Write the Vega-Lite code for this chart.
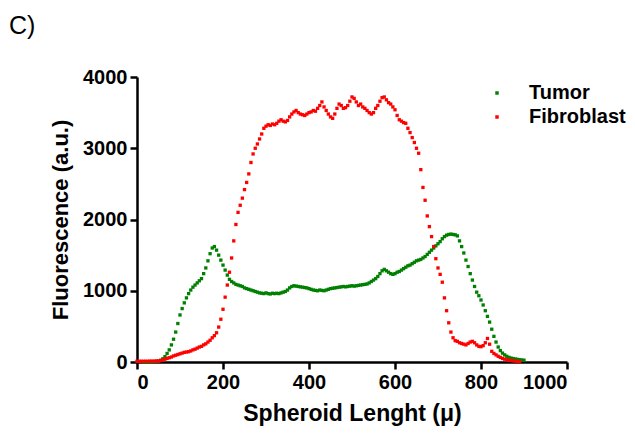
{
  "$schema": "https://vega.github.io/schema/vega-lite/v6.json",
  "autosize": "none",
  "width": 430,
  "height": 285,
  "padding": {"left": 137, "top": 77, "right": 68, "bottom": 75},
  "background": "white",
  "title": {"text": "C)", "anchor": "start", "frame": "group", "dx": -128, "dy": 36, "offset": 44, "baseline": "alphabetic", "font": "Liberation Sans", "fontSize": 25, "fontWeight": "normal", "color": "black"},
  "config": {
    "view": {"stroke": null},
    "axis": {"grid": false, "domainColor": "black", "domainWidth": 2.5, "tickColor": "black", "tickWidth": 2.5, "tickSize": 7, "labelFont": "Liberation Sans", "labelFontWeight": "bold", "labelFontSize": 20, "labelColor": "black", "titleFont": "Liberation Sans", "titleFontWeight": "bold", "titleColor": "black", "labelPadding": 3, "format": "d"}
  },
  "data": {"values": [
{"s":"Tumor","x":15,"y":0},{"s":"Tumor","x":20,"y":0},{"s":"Tumor","x":25,"y":0},{"s":"Tumor","x":30,"y":0},{"s":"Tumor","x":35,"y":2},{"s":"Tumor","x":40,"y":5},{"s":"Tumor","x":45,"y":8},{"s":"Tumor","x":50,"y":12},{"s":"Tumor","x":55,"y":25},{"s":"Tumor","x":60,"y":45},{"s":"Tumor","x":65,"y":75},{"s":"Tumor","x":70,"y":120},{"s":"Tumor","x":75,"y":170},{"s":"Tumor","x":80,"y":240},{"s":"Tumor","x":85,"y":320},{"s":"Tumor","x":90,"y":420},{"s":"Tumor","x":95,"y":540},{"s":"Tumor","x":100,"y":660},{"s":"Tumor","x":105,"y":750},{"s":"Tumor","x":110,"y":830},{"s":"Tumor","x":115,"y":900},{"s":"Tumor","x":120,"y":960},{"s":"Tumor","x":125,"y":1010},{"s":"Tumor","x":130,"y":1050},{"s":"Tumor","x":135,"y":1080},{"s":"Tumor","x":140,"y":1110},{"s":"Tumor","x":145,"y":1140},{"s":"Tumor","x":150,"y":1170},{"s":"Tumor","x":155,"y":1240},{"s":"Tumor","x":160,"y":1320},{"s":"Tumor","x":165,"y":1420},{"s":"Tumor","x":170,"y":1520},{"s":"Tumor","x":175,"y":1600},{"s":"Tumor","x":180,"y":1620},{"s":"Tumor","x":185,"y":1570},{"s":"Tumor","x":190,"y":1500},{"s":"Tumor","x":195,"y":1430},{"s":"Tumor","x":200,"y":1360},{"s":"Tumor","x":205,"y":1290},{"s":"Tumor","x":210,"y":1220},{"s":"Tumor","x":215,"y":1160},{"s":"Tumor","x":220,"y":1130},{"s":"Tumor","x":225,"y":1110},{"s":"Tumor","x":230,"y":1090},{"s":"Tumor","x":235,"y":1080},{"s":"Tumor","x":240,"y":1070},{"s":"Tumor","x":245,"y":1060},{"s":"Tumor","x":250,"y":1040},{"s":"Tumor","x":255,"y":1030},{"s":"Tumor","x":260,"y":1020},{"s":"Tumor","x":265,"y":1010},{"s":"Tumor","x":270,"y":1000},{"s":"Tumor","x":275,"y":990},{"s":"Tumor","x":280,"y":980},{"s":"Tumor","x":285,"y":970},{"s":"Tumor","x":290,"y":965},{"s":"Tumor","x":295,"y":960},{"s":"Tumor","x":300,"y":970},{"s":"Tumor","x":305,"y":960},{"s":"Tumor","x":310,"y":955},{"s":"Tumor","x":315,"y":965},{"s":"Tumor","x":320,"y":960},{"s":"Tumor","x":325,"y":965},{"s":"Tumor","x":330,"y":960},{"s":"Tumor","x":335,"y":970},{"s":"Tumor","x":340,"y":980},{"s":"Tumor","x":345,"y":990},{"s":"Tumor","x":350,"y":1010},{"s":"Tumor","x":355,"y":1040},{"s":"Tumor","x":360,"y":1060},{"s":"Tumor","x":365,"y":1070},{"s":"Tumor","x":370,"y":1065},{"s":"Tumor","x":375,"y":1060},{"s":"Tumor","x":380,"y":1055},{"s":"Tumor","x":385,"y":1050},{"s":"Tumor","x":390,"y":1045},{"s":"Tumor","x":395,"y":1040},{"s":"Tumor","x":400,"y":1030},{"s":"Tumor","x":405,"y":1020},{"s":"Tumor","x":410,"y":1010},{"s":"Tumor","x":415,"y":1005},{"s":"Tumor","x":420,"y":1000},{"s":"Tumor","x":425,"y":1010},{"s":"Tumor","x":430,"y":1005},{"s":"Tumor","x":435,"y":1000},{"s":"Tumor","x":440,"y":1010},{"s":"Tumor","x":445,"y":1020},{"s":"Tumor","x":450,"y":1030},{"s":"Tumor","x":455,"y":1035},{"s":"Tumor","x":460,"y":1040},{"s":"Tumor","x":465,"y":1045},{"s":"Tumor","x":470,"y":1050},{"s":"Tumor","x":475,"y":1055},{"s":"Tumor","x":480,"y":1060},{"s":"Tumor","x":485,"y":1055},{"s":"Tumor","x":490,"y":1060},{"s":"Tumor","x":495,"y":1065},{"s":"Tumor","x":500,"y":1070},{"s":"Tumor","x":505,"y":1065},{"s":"Tumor","x":510,"y":1070},{"s":"Tumor","x":515,"y":1075},{"s":"Tumor","x":520,"y":1080},{"s":"Tumor","x":525,"y":1085},{"s":"Tumor","x":530,"y":1090},{"s":"Tumor","x":535,"y":1095},{"s":"Tumor","x":540,"y":1110},{"s":"Tumor","x":545,"y":1130},{"s":"Tumor","x":550,"y":1150},{"s":"Tumor","x":555,"y":1170},{"s":"Tumor","x":560,"y":1200},{"s":"Tumor","x":565,"y":1240},{"s":"Tumor","x":570,"y":1280},{"s":"Tumor","x":575,"y":1300},{"s":"Tumor","x":580,"y":1280},{"s":"Tumor","x":585,"y":1260},{"s":"Tumor","x":590,"y":1240},{"s":"Tumor","x":595,"y":1230},{"s":"Tumor","x":600,"y":1240},{"s":"Tumor","x":605,"y":1260},{"s":"Tumor","x":610,"y":1270},{"s":"Tumor","x":615,"y":1290},{"s":"Tumor","x":620,"y":1310},{"s":"Tumor","x":625,"y":1330},{"s":"Tumor","x":630,"y":1350},{"s":"Tumor","x":635,"y":1360},{"s":"Tumor","x":640,"y":1380},{"s":"Tumor","x":645,"y":1400},{"s":"Tumor","x":650,"y":1420},{"s":"Tumor","x":655,"y":1430},{"s":"Tumor","x":660,"y":1440},{"s":"Tumor","x":665,"y":1460},{"s":"Tumor","x":670,"y":1480},{"s":"Tumor","x":675,"y":1510},{"s":"Tumor","x":680,"y":1540},{"s":"Tumor","x":685,"y":1570},{"s":"Tumor","x":690,"y":1600},{"s":"Tumor","x":695,"y":1630},{"s":"Tumor","x":700,"y":1660},{"s":"Tumor","x":705,"y":1690},{"s":"Tumor","x":710,"y":1730},{"s":"Tumor","x":715,"y":1760},{"s":"Tumor","x":720,"y":1780},{"s":"Tumor","x":725,"y":1790},{"s":"Tumor","x":730,"y":1795},{"s":"Tumor","x":735,"y":1790},{"s":"Tumor","x":740,"y":1785},{"s":"Tumor","x":745,"y":1770},{"s":"Tumor","x":750,"y":1700},{"s":"Tumor","x":755,"y":1620},{"s":"Tumor","x":760,"y":1530},{"s":"Tumor","x":765,"y":1430},{"s":"Tumor","x":770,"y":1340},{"s":"Tumor","x":775,"y":1240},{"s":"Tumor","x":780,"y":1150},{"s":"Tumor","x":785,"y":1060},{"s":"Tumor","x":790,"y":980},{"s":"Tumor","x":795,"y":930},{"s":"Tumor","x":800,"y":870},{"s":"Tumor","x":805,"y":800},{"s":"Tumor","x":810,"y":720},{"s":"Tumor","x":815,"y":640},{"s":"Tumor","x":820,"y":560},{"s":"Tumor","x":825,"y":460},{"s":"Tumor","x":830,"y":360},{"s":"Tumor","x":835,"y":280},{"s":"Tumor","x":840,"y":210},{"s":"Tumor","x":845,"y":160},{"s":"Tumor","x":850,"y":125},{"s":"Tumor","x":855,"y":100},{"s":"Tumor","x":860,"y":80},{"s":"Tumor","x":865,"y":65},{"s":"Tumor","x":870,"y":55},{"s":"Tumor","x":875,"y":48},{"s":"Tumor","x":880,"y":42},{"s":"Tumor","x":885,"y":37},{"s":"Tumor","x":890,"y":32},{"s":"Tumor","x":895,"y":28},{"s":"Tumor","x":900,"y":25},
{"s":"Fibroblast","x":0,"y":10},{"s":"Fibroblast","x":5,"y":10},{"s":"Fibroblast","x":10,"y":10},{"s":"Fibroblast","x":15,"y":10},{"s":"Fibroblast","x":20,"y":10},{"s":"Fibroblast","x":25,"y":10},{"s":"Fibroblast","x":30,"y":12},{"s":"Fibroblast","x":35,"y":12},{"s":"Fibroblast","x":40,"y":12},{"s":"Fibroblast","x":45,"y":14},{"s":"Fibroblast","x":50,"y":15},{"s":"Fibroblast","x":55,"y":20},{"s":"Fibroblast","x":60,"y":28},{"s":"Fibroblast","x":65,"y":40},{"s":"Fibroblast","x":70,"y":50},{"s":"Fibroblast","x":75,"y":60},{"s":"Fibroblast","x":80,"y":70},{"s":"Fibroblast","x":85,"y":85},{"s":"Fibroblast","x":90,"y":95},{"s":"Fibroblast","x":95,"y":105},{"s":"Fibroblast","x":100,"y":115},{"s":"Fibroblast","x":105,"y":125},{"s":"Fibroblast","x":110,"y":135},{"s":"Fibroblast","x":115,"y":140},{"s":"Fibroblast","x":120,"y":145},{"s":"Fibroblast","x":125,"y":155},{"s":"Fibroblast","x":130,"y":170},{"s":"Fibroblast","x":135,"y":180},{"s":"Fibroblast","x":140,"y":195},{"s":"Fibroblast","x":145,"y":210},{"s":"Fibroblast","x":150,"y":220},{"s":"Fibroblast","x":155,"y":240},{"s":"Fibroblast","x":160,"y":255},{"s":"Fibroblast","x":165,"y":280},{"s":"Fibroblast","x":170,"y":305},{"s":"Fibroblast","x":175,"y":340},{"s":"Fibroblast","x":180,"y":370},{"s":"Fibroblast","x":185,"y":410},{"s":"Fibroblast","x":190,"y":490},{"s":"Fibroblast","x":195,"y":600},{"s":"Fibroblast","x":200,"y":740},{"s":"Fibroblast","x":205,"y":910},{"s":"Fibroblast","x":210,"y":1080},{"s":"Fibroblast","x":215,"y":1260},{"s":"Fibroblast","x":220,"y":1460},{"s":"Fibroblast","x":225,"y":1700},{"s":"Fibroblast","x":230,"y":1930},{"s":"Fibroblast","x":235,"y":2100},{"s":"Fibroblast","x":240,"y":2200},{"s":"Fibroblast","x":245,"y":2300},{"s":"Fibroblast","x":250,"y":2420},{"s":"Fibroblast","x":255,"y":2520},{"s":"Fibroblast","x":260,"y":2640},{"s":"Fibroblast","x":265,"y":2800},{"s":"Fibroblast","x":270,"y":2920},{"s":"Fibroblast","x":275,"y":3000},{"s":"Fibroblast","x":280,"y":3060},{"s":"Fibroblast","x":285,"y":3130},{"s":"Fibroblast","x":290,"y":3200},{"s":"Fibroblast","x":295,"y":3280},{"s":"Fibroblast","x":300,"y":3310},{"s":"Fibroblast","x":305,"y":3330},{"s":"Fibroblast","x":310,"y":3320},{"s":"Fibroblast","x":315,"y":3340},{"s":"Fibroblast","x":320,"y":3330},{"s":"Fibroblast","x":325,"y":3350},{"s":"Fibroblast","x":330,"y":3380},{"s":"Fibroblast","x":335,"y":3400},{"s":"Fibroblast","x":340,"y":3380},{"s":"Fibroblast","x":345,"y":3370},{"s":"Fibroblast","x":350,"y":3390},{"s":"Fibroblast","x":355,"y":3440},{"s":"Fibroblast","x":360,"y":3480},{"s":"Fibroblast","x":365,"y":3510},{"s":"Fibroblast","x":370,"y":3530},{"s":"Fibroblast","x":375,"y":3500},{"s":"Fibroblast","x":380,"y":3480},{"s":"Fibroblast","x":385,"y":3470},{"s":"Fibroblast","x":390,"y":3460},{"s":"Fibroblast","x":395,"y":3480},{"s":"Fibroblast","x":400,"y":3500},{"s":"Fibroblast","x":405,"y":3510},{"s":"Fibroblast","x":410,"y":3530},{"s":"Fibroblast","x":415,"y":3520},{"s":"Fibroblast","x":420,"y":3560},{"s":"Fibroblast","x":425,"y":3600},{"s":"Fibroblast","x":430,"y":3650},{"s":"Fibroblast","x":435,"y":3580},{"s":"Fibroblast","x":440,"y":3530},{"s":"Fibroblast","x":445,"y":3480},{"s":"Fibroblast","x":450,"y":3440},{"s":"Fibroblast","x":455,"y":3420},{"s":"Fibroblast","x":460,"y":3480},{"s":"Fibroblast","x":465,"y":3560},{"s":"Fibroblast","x":470,"y":3620},{"s":"Fibroblast","x":475,"y":3600},{"s":"Fibroblast","x":480,"y":3560},{"s":"Fibroblast","x":485,"y":3570},{"s":"Fibroblast","x":490,"y":3600},{"s":"Fibroblast","x":495,"y":3660},{"s":"Fibroblast","x":500,"y":3720},{"s":"Fibroblast","x":505,"y":3700},{"s":"Fibroblast","x":510,"y":3650},{"s":"Fibroblast","x":515,"y":3600},{"s":"Fibroblast","x":520,"y":3620},{"s":"Fibroblast","x":525,"y":3580},{"s":"Fibroblast","x":530,"y":3560},{"s":"Fibroblast","x":535,"y":3530},{"s":"Fibroblast","x":540,"y":3500},{"s":"Fibroblast","x":545,"y":3480},{"s":"Fibroblast","x":550,"y":3500},{"s":"Fibroblast","x":555,"y":3560},{"s":"Fibroblast","x":560,"y":3600},{"s":"Fibroblast","x":565,"y":3660},{"s":"Fibroblast","x":570,"y":3710},{"s":"Fibroblast","x":575,"y":3720},{"s":"Fibroblast","x":580,"y":3680},{"s":"Fibroblast","x":585,"y":3640},{"s":"Fibroblast","x":590,"y":3620},{"s":"Fibroblast","x":595,"y":3580},{"s":"Fibroblast","x":600,"y":3540},{"s":"Fibroblast","x":605,"y":3460},{"s":"Fibroblast","x":610,"y":3400},{"s":"Fibroblast","x":615,"y":3380},{"s":"Fibroblast","x":620,"y":3360},{"s":"Fibroblast","x":625,"y":3350},{"s":"Fibroblast","x":630,"y":3280},{"s":"Fibroblast","x":635,"y":3220},{"s":"Fibroblast","x":640,"y":3150},{"s":"Fibroblast","x":645,"y":3080},{"s":"Fibroblast","x":650,"y":3000},{"s":"Fibroblast","x":655,"y":2930},{"s":"Fibroblast","x":660,"y":2700},{"s":"Fibroblast","x":665,"y":2450},{"s":"Fibroblast","x":670,"y":2270},{"s":"Fibroblast","x":675,"y":2050},{"s":"Fibroblast","x":680,"y":1900},{"s":"Fibroblast","x":685,"y":1760},{"s":"Fibroblast","x":690,"y":1620},{"s":"Fibroblast","x":695,"y":1450},{"s":"Fibroblast","x":700,"y":1320},{"s":"Fibroblast","x":705,"y":1230},{"s":"Fibroblast","x":710,"y":1120},{"s":"Fibroblast","x":715,"y":900},{"s":"Fibroblast","x":720,"y":720},{"s":"Fibroblast","x":725,"y":550},{"s":"Fibroblast","x":730,"y":420},{"s":"Fibroblast","x":735,"y":340},{"s":"Fibroblast","x":740,"y":300},{"s":"Fibroblast","x":745,"y":290},{"s":"Fibroblast","x":750,"y":270},{"s":"Fibroblast","x":755,"y":260},{"s":"Fibroblast","x":760,"y":250},{"s":"Fibroblast","x":765,"y":240},{"s":"Fibroblast","x":770,"y":260},{"s":"Fibroblast","x":775,"y":280},{"s":"Fibroblast","x":780,"y":290},{"s":"Fibroblast","x":785,"y":270},{"s":"Fibroblast","x":790,"y":240},{"s":"Fibroblast","x":795,"y":220},{"s":"Fibroblast","x":800,"y":215},{"s":"Fibroblast","x":805,"y":230},{"s":"Fibroblast","x":810,"y":270},{"s":"Fibroblast","x":815,"y":330},{"s":"Fibroblast","x":820,"y":250},{"s":"Fibroblast","x":825,"y":150},{"s":"Fibroblast","x":830,"y":120},{"s":"Fibroblast","x":835,"y":100},{"s":"Fibroblast","x":840,"y":80},{"s":"Fibroblast","x":845,"y":65},{"s":"Fibroblast","x":850,"y":50},{"s":"Fibroblast","x":855,"y":40},{"s":"Fibroblast","x":860,"y":32},{"s":"Fibroblast","x":865,"y":25},{"s":"Fibroblast","x":870,"y":20},{"s":"Fibroblast","x":875,"y":16},{"s":"Fibroblast","x":880,"y":12},{"s":"Fibroblast","x":885,"y":8},{"s":"Fibroblast","x":890,"y":5}
  ]},
  "mark": {"type": "square", "size": 11, "opacity": 1, "filled": true},
  "encoding": {
    "x": {"field": "x", "type": "quantitative", "scale": {"domain": [0, 1000], "nice": false}, "axis": {"values": [0, 200, 400, 600, 800, 1000], "title": "Spheroid Lenght (μ)", "titleFontSize": 23, "titlePadding": 10}},
    "y": {"field": "y", "type": "quantitative", "scale": {"domain": [0, 4000], "nice": false}, "axis": {"values": [0, 1000, 2000, 3000, 4000], "title": "Fluorescence (a.u.)", "titleFontSize": 22, "titlePadding": 10}},
    "color": {"field": "s", "type": "nominal", "scale": {"domain": ["Tumor", "Fibroblast"], "range": ["#008000", "#ff0000"]},
      "legend": {"title": null, "orient": "none", "legendX": 350, "legendY": 6, "symbolType": "square", "symbolSize": 12, "labelFont": "Liberation Sans", "labelFontWeight": "bold", "labelFontSize": 20, "labelColor": "black", "labelOffset": 22, "rowPadding": 4}
    }
  }
}
